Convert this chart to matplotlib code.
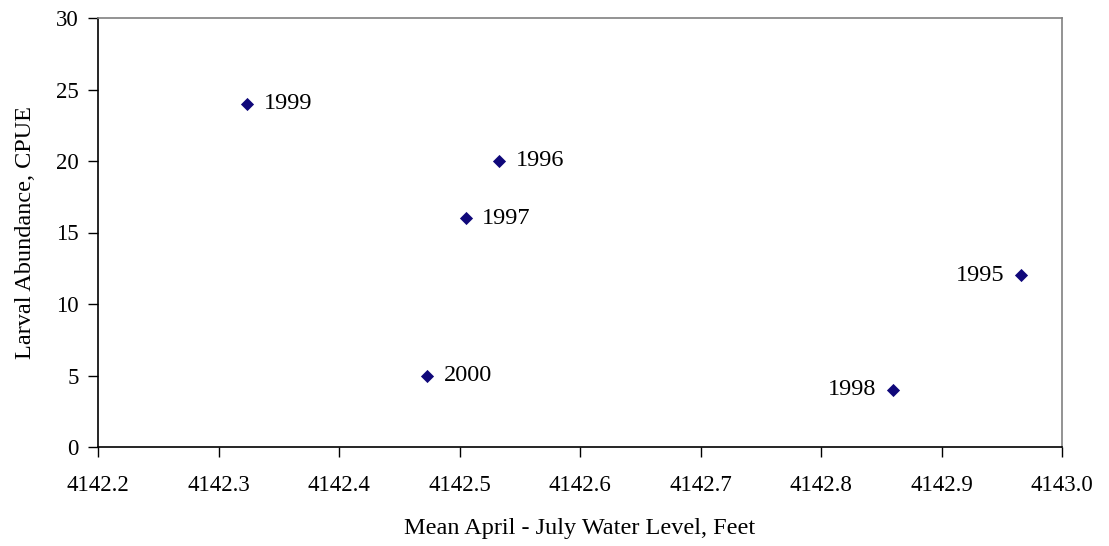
import matplotlib
matplotlib.use("Agg")
import matplotlib.pyplot as plt

years = ["1995", "1996", "1997", "1998", "1999", "2000"]
water_level = [4142.966, 4142.533, 4142.505, 4142.860, 4142.324, 4142.473]
cpue = [12, 20, 16, 4, 24, 5]
label_side = ["left", "right", "right", "left", "right", "right"]
x_ticks = [4142.2, 4142.3, 4142.4, 4142.5, 4142.6, 4142.7, 4142.8, 4142.9, 4143.0]
y_ticks = [0, 5, 10, 15, 20, 25, 30]

plt.rcParams['font.family'] = ['Liberation Serif', 'DejaVu Serif']

fig = plt.figure(figsize=(11.09, 5.46), dpi=100)
ax = fig.add_axes([98/1109, 1 - 447/546, (1062-98)/1109, (447-18)/546])

ax.scatter(water_level, cpue, marker='D', s=45, color='#10087a', zorder=3, linewidths=0)

for x, y, t, side in zip(water_level, cpue, years, label_side):
    if side == "right":
        ax.annotate(t, (x, y), xytext=(12, 0), textcoords='offset points',
                    ha='left', va='center', fontsize=17.5)
    else:
        ax.annotate(t, (x, y), xytext=(-12, 0), textcoords='offset points',
                    ha='right', va='center', fontsize=17.5)

ax.set_xlim(4142.2, 4143.0)
ax.set_ylim(0, 30)
ax.set_xticks(x_ticks)
ax.set_xticklabels([f"{v:.1f}" for v in x_ticks])
ax.set_yticks(y_ticks)
ax.tick_params(axis='both', labelsize=16.5, direction='out', length=7, width=1, color='black')
ax.tick_params(axis='x', pad=13)
ax.tick_params(axis='y', pad=7)

for s in ['left', 'bottom']:
    ax.spines[s].set_color('black')
    ax.spines[s].set_linewidth(1.2)
for s in ['top', 'right']:
    ax.spines[s].set_color('#808080')
    ax.spines[s].set_linewidth(1.2)

ax.set_xlabel("Mean April - July Water Level, Feet", fontsize=17.5, labelpad=16)
ax.set_ylabel("Larval Abundance, CPUE", fontsize=17.5, labelpad=14)

fig.savefig("out.png", dpi=100)
